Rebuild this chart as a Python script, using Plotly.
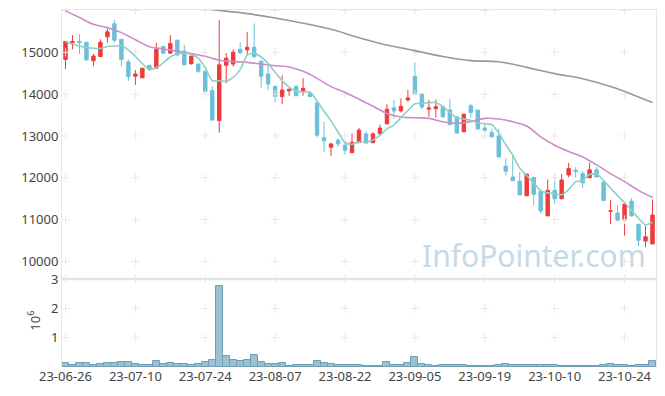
import plotly.graph_objects as go

dates = [
    "23-06-26", "23-06-27", "23-06-28", "23-06-29", "23-06-30",
    "23-07-03", "23-07-04", "23-07-05", "23-07-06", "23-07-07",
    "23-07-10", "23-07-11", "23-07-12", "23-07-13", "23-07-14",
    "23-07-17", "23-07-18", "23-07-19", "23-07-20", "23-07-21",
    "23-07-24", "23-07-25", "23-07-26", "23-07-27", "23-07-28",
    "23-07-31", "23-08-01", "23-08-02", "23-08-03", "23-08-04",
    "23-08-07", "23-08-08", "23-08-09", "23-08-10", "23-08-11",
    "23-08-14", "23-08-16", "23-08-17", "23-08-18", "23-08-21",
    "23-08-22", "23-08-23", "23-08-24", "23-08-25", "23-08-28",
    "23-08-29", "23-08-30", "23-08-31", "23-09-01", "23-09-04",
    "23-09-05", "23-09-06", "23-09-07", "23-09-08", "23-09-11",
    "23-09-12", "23-09-13", "23-09-14", "23-09-15", "23-09-18",
    "23-09-19", "23-09-20", "23-09-21", "23-09-22", "23-09-25",
    "23-09-26", "23-09-27", "23-10-04", "23-10-05", "23-10-06",
    "23-10-10", "23-10-11", "23-10-12", "23-10-13", "23-10-16",
    "23-10-17", "23-10-18", "23-10-19", "23-10-20", "23-10-23",
    "23-10-24", "23-10-25", "23-10-26", "23-10-27", "23-10-30",
]

open_ = [14830, 15230, 15260, 15240, 14800, 14900, 15370, 15680, 15310, 14770,
         14430, 14390, 14690, 14620, 15140, 14980, 15290, 15030, 14730, 14720,
         14550, 14080, 13370, 14690, 14720, 15070, 15060, 15120, 14790, 14480,
         14190, 13940, 14080, 14190, 14070, 14030, 13790, 12960, 12730, 12900,
         12780, 12600, 12840, 13050, 12840, 13060, 13290, 13670, 13600, 13860,
         14420, 14000, 13640, 13650, 13700, 13620, 13460, 13100, 13720, 13620,
         13190, 13080, 13000, 12280, 12020, 11920, 11570, 12010, 11680, 11090,
         11700, 11500, 12070, 12180, 12100, 12000, 12190, 11900, 11200, 11160,
         10990, 11440, 10890, 10490, 10420]
high = [15260, 15410, 15430, 15240, 14960, 15310, 15560, 15770, 15310, 14830,
        14580, 14620, 14690, 15230, 15150, 15410, 15300, 15180, 14910, 14720,
        14550, 14190, 15770, 14980, 15070, 15240, 15480, 15690, 14790, 14700,
        14190, 14450, 14120, 14190, 14380, 14030, 13790, 13340, 12840, 12940,
        12890, 13060, 13190, 13110, 13090, 13270, 13760, 13860, 13900, 14100,
        14760, 14000, 13860, 13870, 13700, 13880, 13460, 13520, 13760, 13620,
        13300, 13160, 13180, 12470, 12540, 12140, 12090, 12010, 11720, 11960,
        12070, 12090, 12360, 12250, 12170, 12360, 12260, 11900, 11470, 11350,
        11370, 11510, 10890, 10850, 11480]
low = [14600, 15070, 14960, 14800, 14670, 14900, 15230, 15230, 14660, 14320,
       14220, 14390, 14560, 14620, 14960, 14980, 14900, 14700, 14700, 14510,
       14060, 13380, 13080, 14260, 14660, 14960, 14940, 14860, 14160, 14100,
       13800, 13760, 13960, 13960, 13960, 13940, 12970, 12620, 12520, 12740,
       12560, 12600, 12840, 12820, 12830, 13020, 13280, 13420, 13560, 13820,
       13990, 13640, 13460, 13440, 13440, 13270, 13060, 13090, 13440, 13150,
       13100, 12970, 12500, 12060, 11930, 11590, 11570, 11350, 11150, 11090,
       11370, 11500, 12010, 12010, 11750, 12000, 12020, 11440, 10890, 10960,
       10620, 11080, 10370, 10340, 10420]
close = [15260, 15260, 15230, 14820, 14910, 15240, 15490, 15290, 14830, 14420,
         14480, 14620, 14590, 15070, 14980, 15210, 14940, 14700, 14910, 14550,
         14060, 13380, 14700, 14860, 15000, 14990, 15120, 14900, 14430, 14240,
         13940, 14100, 14120, 13960, 14140, 13940, 13020, 12890, 12810, 12810,
         12660, 12850, 13140, 12830, 13050, 13190, 13640, 13600, 13710, 13910,
         14000, 13690, 13670, 13700, 13460, 13270, 13070, 13520, 13560, 13170,
         13140, 12980, 12500, 12160, 11930, 11590, 12090, 11610, 11210, 11700,
         11500, 11950, 12220, 12150, 11880, 12190, 12020, 11460, 11210, 10990,
         11370, 11090, 10510, 10590, 11110]

volume = [136000, 80000, 136000, 136000, 70000, 100000, 136000, 136000, 170000, 170000,
          100000, 70000, 70000, 200000, 100000, 136000, 100000, 100000, 70000, 100000,
          170000, 240000, 2770000, 375000, 240000, 200000, 240000, 410000, 170000, 100000,
          100000, 136000, 34000, 70000, 70000, 70000, 200000, 136000, 100000, 68000,
          68000, 68000, 68000, 34000, 34000, 34000, 180000, 68000, 68000, 148000,
          350000, 100000, 68000, 34000, 68000, 68000, 68000, 68000, 34000, 34000,
          34000, 34000, 68000, 100000, 68000, 68000, 68000, 68000, 68000, 68000,
          68000, 34000, 34000, 34000, 34000, 34000, 34000, 68000, 100000, 68000,
          68000, 34000, 68000, 68000, 200000]

ma5 = [15254, 15200, 15151, 15111, 15096, 15092, 15138, 15150, 15152, 15054,
       14902, 14728, 14588, 14636, 14748, 14894, 14958, 14980, 14948, 14862,
       14632, 14320, 14320, 14310, 14400, 14586, 14934, 14974, 14888, 14736,
       14526, 14322, 14166, 14072, 14052, 14052, 13836, 13590, 13360, 13094,
       12838, 12804, 12854, 12858, 12906, 13012, 13170, 13262, 13438, 13610,
       13772, 13782, 13796, 13794, 13704, 13558, 13434, 13404, 13376, 13318,
       13292, 13274, 13070, 12790, 12542, 12232, 12054, 11876, 11686, 11640,
       11622, 11594, 11716, 11904, 11940, 12078, 12092, 11940, 11752, 11574,
       11410, 11224, 11032, 10876, 10938]

ma20_idx = [0, 2, 4, 6, 8, 10, 12, 14, 16, 18, 20, 22, 24, 26, 28, 30, 32, 34, 36, 38,
            40, 42, 44, 46, 48, 50, 52, 54, 56, 58, 60, 62, 64, 66, 68, 70, 72, 74, 76,
            78, 80, 82, 84]
ma20 = [15990, 15830, 15670, 15590, 15470, 15300, 15135, 15080, 15030, 14970,
        14905, 14810, 14780, 14760, 14720, 14680, 14650, 14545, 14378, 14180,
        14040, 13880, 13710, 13540, 13455, 13435, 13420, 13340, 13305, 13345,
        13420, 13405, 13340, 13237, 12980, 12780, 12630, 12500, 12310, 12100,
        11910, 11700, 11530]

ma60_idx = [0, 10, 18, 22, 26, 30, 34, 38, 42, 46, 50, 54, 58, 62, 66, 70, 74, 78, 81, 84]
ma60 = [16460, 16240, 16080, 16000, 15925, 15820, 15695, 15550, 15350, 15175,
        15040, 14900, 14800, 14775, 14640, 14490, 14370, 14180, 14000, 13800]

price_ticks = [10000, 11000, 12000, 13000, 14000, 15000]
price_cross = [10000, 11000, 12000, 13000, 14000, 15000, 16000]
vol_ticks = [1000000, 2000000, 3000000]
vol_ticktext = ["1", "2", "3"]
x_tick_idx = [0, 10, 20, 30, 40, 50, 60, 70, 80]

RED = "#F03A3A"
BLUE = "#6CBFD9"
FONT = "Noto Sans"
CROSS = "#E8E8E8"

fig = go.Figure()

# grid crosses at tick intersections
cx, cy = [], []
for i in x_tick_idx:
    for v in price_cross:
        cx.append(dates[i]); cy.append(v)
fig.add_trace(go.Scatter(x=cx, y=cy, mode="markers", xaxis="x", yaxis="y",
                         marker=dict(symbol="cross-thin", size=6,
                                     line=dict(color=CROSS, width=1)),
                         hoverinfo="skip", showlegend=False, cliponaxis=False))
vx, vy = [], []
for i in x_tick_idx:
    for v in vol_ticks:
        vx.append(dates[i]); vy.append(v)
fig.add_trace(go.Scatter(x=vx, y=vy, mode="markers", xaxis="x2", yaxis="y2",
                         marker=dict(symbol="cross-thin", size=6,
                                     line=dict(color=CROSS, width=1)),
                         hoverinfo="skip", showlegend=False, cliponaxis=False))

fig.add_trace(go.Scatter(x=[dates[i] for i in ma60_idx], y=ma60, mode="lines",
                         line=dict(color="#999999", width=1.6, shape="spline"),
                         xaxis="x", yaxis="y", showlegend=False))
fig.add_trace(go.Scatter(x=[dates[i] for i in ma20_idx], y=ma20, mode="lines",
                         line=dict(color="#CC8CC8", width=1.6, shape="spline"),
                         xaxis="x", yaxis="y", showlegend=False))
fig.add_trace(go.Scatter(x=dates, y=ma5, mode="lines",
                         line=dict(color="#8ED0C3", width=1.6, shape="spline", smoothing=0.6),
                         xaxis="x", yaxis="y", showlegend=False))

fig.add_trace(go.Candlestick(
    x=dates, open=open_, high=high, low=low, close=close,
    increasing=dict(line=dict(color=RED, width=1), fillcolor=RED),
    decreasing=dict(line=dict(color=BLUE, width=1), fillcolor=BLUE),
    xaxis="x", yaxis="y", showlegend=False))

fig.add_trace(go.Bar(x=dates, y=volume, xaxis="x2", yaxis="y2",
                     marker=dict(color="#9CC2D2", line=dict(color="#6E9FB6", width=1)),
                     width=1.0, showlegend=False))

bottom = 0.2465
fig.update_layout(
    width=665, height=396,
    margin=dict(l=54, r=17, t=2, b=37, autoexpand=False),
    paper_bgcolor="white", plot_bgcolor="white",
    font=dict(family=FONT, size=13, color="#444444"),
    bargap=0,
    xaxis=dict(domain=[0, 1], anchor="y", type="category", automargin=False,
               categoryorder="array", categoryarray=dates, range=[-0.5, 84.5],
               showticklabels=False, showgrid=False, zeroline=False,
               showline=True, linecolor="#E6E6E6", linewidth=1, mirror=True,
               rangeslider=dict(visible=False)),
    yaxis=dict(domain=[bottom, 1], anchor="x", range=[9582, 16011], automargin=False,
               tickvals=price_ticks, ticktext=[str(v) for v in price_ticks],
               showgrid=False, zeroline=False,
               showline=True, linecolor="#E6E6E6", linewidth=1, mirror=True,
               ticks="", tickfont=dict(size=13, color="#444444")),
    xaxis2=dict(domain=[0, 1], anchor="y2", type="category", automargin=False,
                categoryorder="array", categoryarray=dates, range=[-0.5, 84.5],
                tickvals=[dates[i] for i in x_tick_idx],
                ticktext=[dates[i] for i in x_tick_idx], tickangle=0,
                showgrid=False, zeroline=False, showline=False, ticks="",
                tickfont=dict(size=13, color="#444444")),
    yaxis2=dict(domain=[0, bottom], anchor="x2", range=[0, 3010000], automargin=False,
                tickvals=vol_ticks, ticktext=vol_ticktext, showgrid=False,
                zeroline=False, showline=True, linecolor="#E6E6E6", linewidth=1,
                mirror=True, ticks="", tickfont=dict(size=13, color="#444444")),
    shapes=[dict(type="line", xref="paper", yref="paper", x0=0, x1=1,
                 y0=bottom, y1=bottom, line=dict(color="#E2E2E2", width=2.5))],
    annotations=[
        dict(text="InfoPointer.com", xref="paper", yref="paper", x=0.9865, y=0.311,
             xanchor="right", yanchor="middle", showarrow=False,
             font=dict(family=FONT, size=30, color="#C5DAE5")),
        dict(text="10<sup>6</sup>", xref="paper", yref="paper", x=-0.047, y=0.13,
             xanchor="center", yanchor="middle", showarrow=False, textangle=-90,
             font=dict(family=FONT, size=13, color="#444444")),
    ],
)

fig.write_html("out.html")
